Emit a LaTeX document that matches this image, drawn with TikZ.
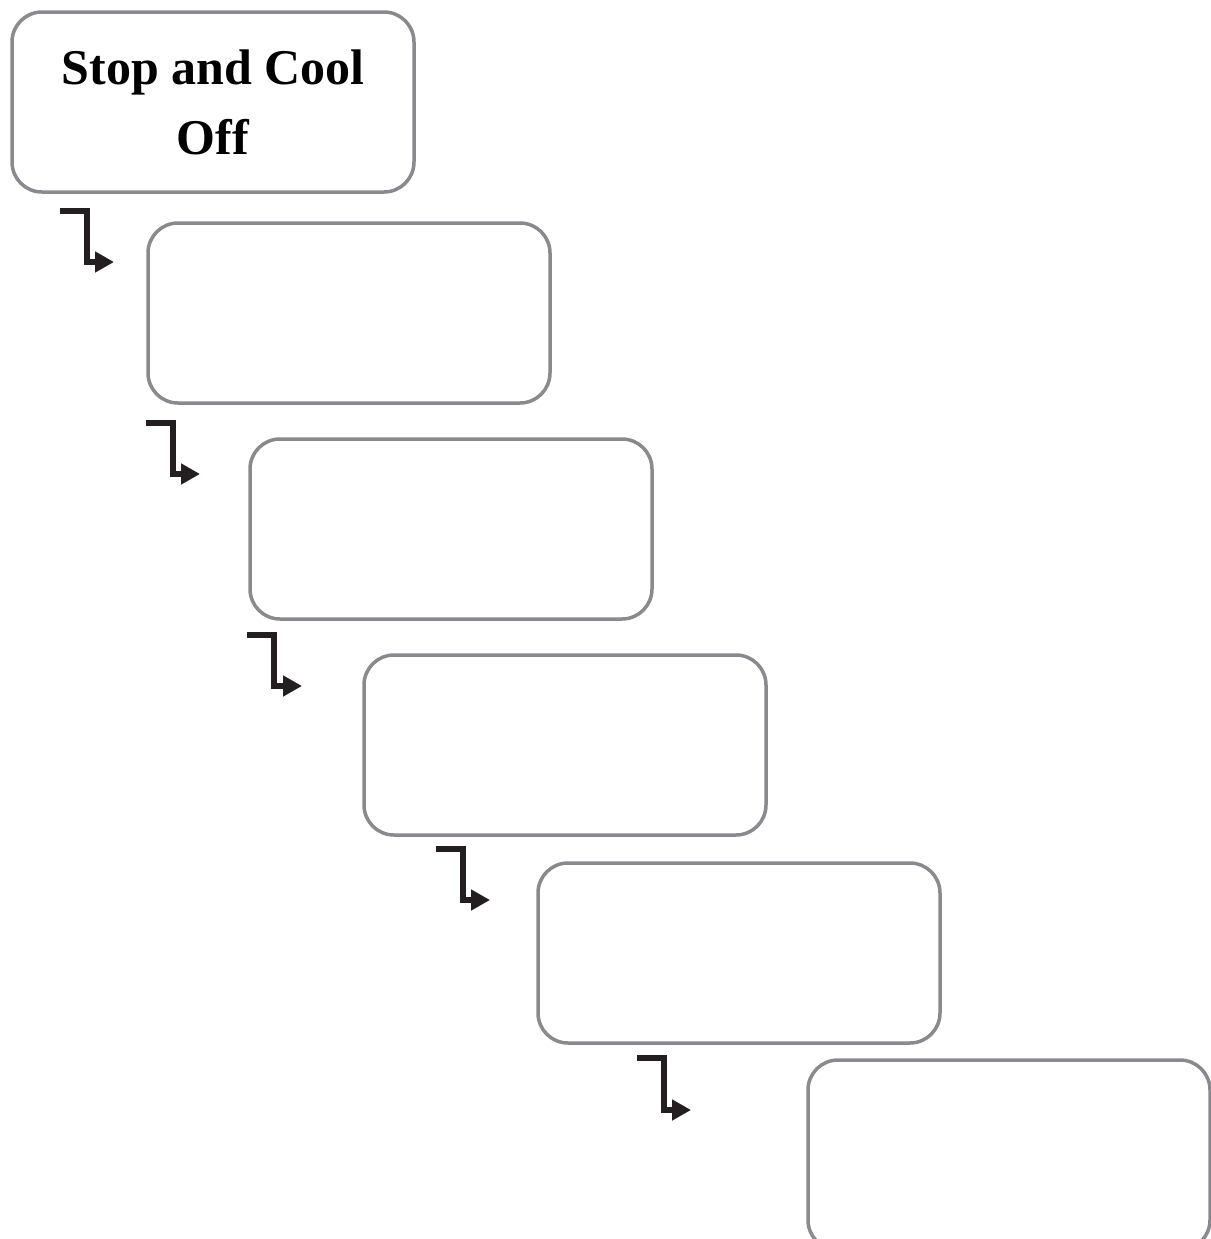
\documentclass[tikz,border=0pt]{standalone}
\usepackage{fontspec}
\setmainfont{Liberation Serif}
\usetikzlibrary{arrows.meta}

\definecolor{boxgray}{RGB}{138,138,142}
\definecolor{arrowblack}{RGB}{35,31,32}

\tikzset{
  stepbox/.style={draw=boxgray,line width=1.75pt,rounded corners=15pt,
    minimum width=201pt,minimum height=90pt,inner sep=0pt,align=center},
  steparrow/.style={draw=arrowblack,line width=3pt,
    -{Triangle[length=9.5pt,width=10pt]}}
}

\begin{document}
\begin{tikzpicture}[x=0.5pt,y=-0.5pt]
\useasboundingbox (0,0) rectangle (1211,1239);

\node[stepbox,font=\fontsize{25}{35}\selectfont\bfseries] (cool) at (213,102) {Stop and Cool\\Off};
\node[stepbox] (stepb) at (349,313) {};
\node[stepbox] (stepc) at (451,529) {};
\node[stepbox] (stepd) at (565,745) {};
\node[stepbox] (stepe) at (739,953) {};
\node[stepbox,minimum height=95pt] (stepf) at (1009,1155) {};

\coordinate (a1s) at (60,211);
\coordinate (a1e) at (114,262);
\coordinate (a2s) at (146,423);
\coordinate (a2e) at (200,474);
\coordinate (a3s) at (247,635);
\coordinate (a3e) at (302,686);
\coordinate (a4s) at (436,849);
\coordinate (a4e) at (490,900);
\coordinate (a5s) at (637,1058);
\coordinate (a5e) at (691,1110);

\draw[steparrow] (a1s) -- ++(27,0) |- (a1e);
\draw[steparrow] (a2s) -- ++(27,0) |- (a2e);
\draw[steparrow] (a3s) -- ++(27,0) |- (a3e);
\draw[steparrow] (a4s) -- ++(27,0) |- (a4e);
\draw[steparrow] (a5s) -- ++(27,0) |- (a5e);
\end{tikzpicture}
\end{document}
